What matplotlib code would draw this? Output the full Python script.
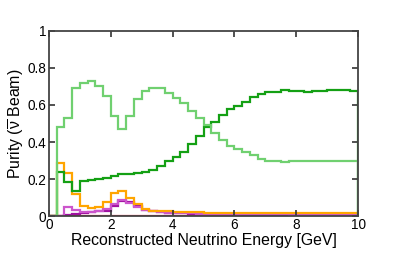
import numpy as np
import matplotlib
matplotlib.use("Agg")
import matplotlib.pyplot as plt

# 40 bins of 0.25 GeV
edges = np.linspace(0, 10, 41)

numubar = [0, 0.48, 0.53, 0.69, 0.72, 0.73, 0.70, 0.65, 0.54, 0.47,
           0.54, 0.63, 0.675, 0.69, 0.69, 0.665, 0.64, 0.61, 0.57, 0.53,
           0.49, 0.45, 0.41, 0.38, 0.36, 0.345, 0.33, 0.31, 0.295, 0.30,
           0.29, 0.295, 0.295, 0.297, 0.298, 0.298, 0.297, 0.296, 0.295, 0.30]
numu = [0, 0.24, 0.185, 0.135, 0.19, 0.195, 0.20, 0.205, 0.215, 0.225,
        0.225, 0.23, 0.24, 0.25, 0.27, 0.30, 0.32, 0.345, 0.39, 0.43,
        0.48, 0.51, 0.545, 0.58, 0.595, 0.615, 0.645, 0.66, 0.67, 0.67,
        0.68, 0.675, 0.675, 0.672, 0.675, 0.678, 0.68, 0.68, 0.68, 0.675]
nc = [0, 0.285, 0.23, 0.12, 0.055, 0.045, 0.05, 0.075, 0.125, 0.135,
      0.10, 0.065, 0.04, 0.03, 0.025, 0.025, 0.022, 0.02, 0.02, 0.02,
      0.018, 0.018, 0.017, 0.017, 0.016, 0.016, 0.015, 0.015, 0.016, 0.015,
      0.015, 0.016, 0.015, 0.015, 0.014, 0.014, 0.014, 0.014, 0.014, 0.014]
nuebar = [0, 0, 0.048, 0.035, 0.022, 0.02, 0.025, 0.04, 0.065, 0.085,
          0.07, 0.05, 0.035, 0.025, 0.02, 0.018, 0.016, 0.015, 0.014, 0.013,
          0.012, 0.012, 0.011, 0.011, 0.010, 0.010, 0.010, 0.009, 0.009, 0.009,
          0.009, 0.008, 0.008, 0.008, 0.008, 0.008, 0.008, 0.008, 0.008, 0.008]
nue = [0, 0.003, 0.008, 0.012, 0.018, 0.02, 0.025, 0.03, 0.055, 0.08,
       0.075, 0.055, 0.035, 0.025, 0.02, 0.018, 0.016, 0.014, 0.013, 0.012,
       0.011, 0.010, 0.010, 0.009, 0.009, 0.008, 0.008, 0.008, 0.007, 0.007,
       0.007, 0.007, 0.006, 0.006, 0.006, 0.006, 0.005, 0.005, 0.005, 0.005]
nutau = [0, 0, 0.003, 0.003, 0.003, 0.003, 0.003, 0.003, 0.003, 0.003,
         0.003, 0.003, 0.003, 0.003, 0.003, 0.003, 0.003, 0.003, 0.003, 0.003,
         0.003, 0.003, 0.003, 0.003, 0.003, 0.003, 0.003, 0.003, 0.003, 0.003,
         0.003, 0.003, 0.003, 0.003, 0.003, 0.003, 0.003, 0.003, 0.003, 0.003]

plt.rcParams['font.family'] = ['Liberation Sans', 'DejaVu Sans']
plt.rcParams['mathtext.fontset'] = 'custom'
plt.rcParams['mathtext.rm'] = 'Liberation Sans'
plt.rcParams['mathtext.it'] = 'Liberation Sans'

fig = plt.figure(figsize=(4.07, 2.60), dpi=100)
ax = fig.add_axes([0.120, 0.169, 0.760, 0.712])

lw = 1.6
ax.stairs(nutau, edges, color="#ee3344", linewidth=lw)
ax.stairs(nue, edges, color="#a010a0", linewidth=lw)
ax.stairs(nuebar, edges, color="#cc55cc", linewidth=lw)
ax.stairs(nc, edges, color="#ffa500", linewidth=lw)
ax.stairs(numu, edges, color="#14a014", linewidth=lw)
ax.stairs(numubar, edges, color="#70d070", linewidth=lw)

ax.set_xlim(0, 10)
ax.set_ylim(0, 1)
ax.set_xticks([0, 2, 4, 6, 8, 10])
ax.set_yticks([0, 0.2, 0.4, 0.6, 0.8, 1])
ax.set_yticklabels(["0", "0.2", "0.4", "0.6", "0.8", "1"])
ax.tick_params(direction="in", length=4, width=1.2, top=True, right=True,
               labelsize=9.8, pad=2, color="#333333")
ax.tick_params(axis="x", pad=1.5)
for sp in ax.spines.values():
    sp.set_color("#444444")
    sp.set_linewidth(1.3)

ax.set_xlabel("Reconstructed Neutrino Energy [GeV]", fontsize=11.4, labelpad=0.5)
ax.set_ylabel(r"Purity ($\overline{\nu}$ Beam)", fontsize=11.4, labelpad=1)

fig.savefig("out.png", dpi=100)
